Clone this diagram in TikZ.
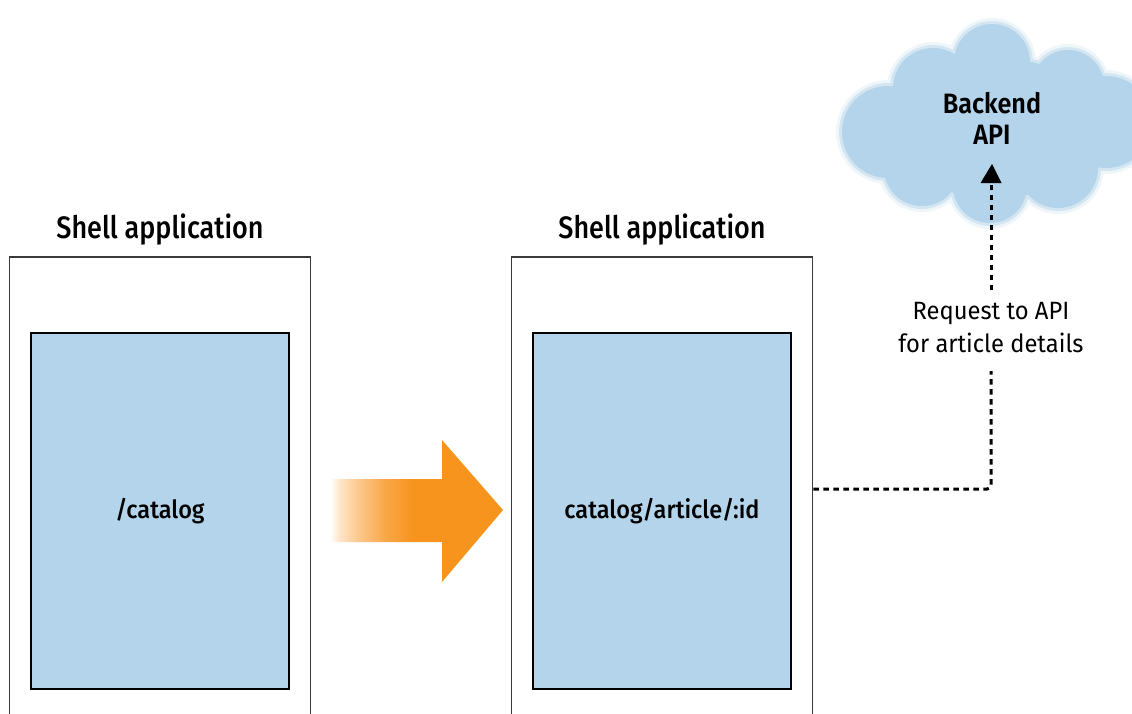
\documentclass[tikz,border=0pt]{standalone}
\usepackage{fontspec}
\setmainfont{Fira Sans}[FakeStretch=0.95]
\newfontfamily\titlefont{Fira Sans Medium}[FakeStretch=0.87]
\newfontfamily\medfont{Fira Sans Medium}[FakeStretch=0.94]
\newfontfamily\boldfont{Fira Sans SemiBold}[FakeStretch=0.9]
\usetikzlibrary{arrows.meta}
\definecolor{paleblue}{HTML}{B3D4EA}
\definecolor{frameline}{HTML}{3A3A3A}
\definecolor{routeorange}{HTML}{F7941E}
\pgfdeclarehorizontalshading{arrowfade}{100bp}{%
  color(0bp)=(white); color(25bp)=(white);
  color(28bp)=(routeorange!25); color(34bp)=(routeorange!55);
  color(41bp)=(routeorange!82); color(49bp)=(routeorange);
  color(100bp)=(routeorange)}
\tikzset{
  shellframe/.style={draw=frameline, line width=1.8pt, fill=white},
  viewbox/.style={draw=black, line width=1.4pt, fill=paleblue},
  shelltitle/.style={font=\titlefont\fontsize{31}{37}\selectfont, anchor=base},
  viewlabel/.style={font=\medfont\fontsize{25}{30}\selectfont, anchor=base},
  notelabel/.style={font=\fontsize{25}{33}\selectfont, align=center, inner sep=0pt},
  cloudtext/.style={font=\boldfont\fontsize{28}{31}\selectfont, align=center, inner sep=0pt},
  dotline/.style={line width=3pt, dash pattern=on 5.5pt off 4.5pt},
}
\newcommand{\cloudbumps}{%
  (992,62) circle (38)
  (933,88) circle (40)
  (888,132) circle (46)
  (922,168) circle (38)
  (990,186) circle (37)
  (1058,168) circle (40)
  (1106,122) circle (46)
  (1068,86) circle (36)
  (995,128) ellipse (110 and 70)
}
\begin{document}
\begin{tikzpicture}[x=1pt, y=-1pt]
  \clip (0,0) rectangle (1132,713);
  \fill[white] (0,0) rectangle (1132,713);

  % backend cloud with a soft rim
  \begin{scope}[transparency group, opacity=0.2]
    \fill[paleblue] \cloudbumps;
    \draw[paleblue, line width=12pt] \cloudbumps;
  \end{scope}
  \begin{scope}[transparency group, opacity=0.45]
    \fill[paleblue] \cloudbumps;
    \draw[paleblue, line width=6pt] \cloudbumps;
  \end{scope}
  \fill[paleblue] \cloudbumps;
  \node[cloudtext] (api) at (992,118) {Backend\\API};
  \coordinate (apitip) at (992,164);

  % shell applications
  \node[shellframe, minimum width=301pt, minimum height=520pt, inner sep=0pt]
    (shellA) at (160,517) {};
  \node[shellframe, minimum width=301pt, minimum height=520pt, inner sep=0pt]
    (shellB) at (662,517) {};
  \node[shelltitle] (titleA) at (160,238) {Shell application};
  \node[shelltitle] (titleB) at (662,238) {Shell application};

  \node[viewbox, minimum width=258pt, minimum height=356pt, inner sep=0pt]
    (viewA) at (160,511) {};
  \node[viewbox, minimum width=258pt, minimum height=356pt, inner sep=0pt]
    (viewB) at (662,511) {};
  \node[viewlabel] (labelA) at (160,518) {/catalog};
  \node[viewlabel] (labelB) at (662,518) {catalog/article/:id};

  % navigation arrow with a faded tail
  \coordinate (arrowtip) at (503,510);
  \shade[shading=arrowfade]
    (330,479) -- (442,479) -- (442,440) -- (arrowtip)
    -- (442,582) -- (442,542) -- (330,542) -- cycle;

  % request to the backend
  \node[notelabel] (request) at (991,328) {Request to API\\for article details};
  \coordinate (bend) at (991,489);
  \coordinate (reqlow) at (991,371);
  \coordinate (reqhigh) at (991,290);
  \draw[dotline, rounded corners=4pt] (shellB.east |- bend) -- (bend) -- (reqlow);
  \draw[dotline] (reqhigh) -- (991,183);
  \fill (apitip) -- (1001.5,183) -- (980.5,183) -- cycle;
\end{tikzpicture}
\end{document}
